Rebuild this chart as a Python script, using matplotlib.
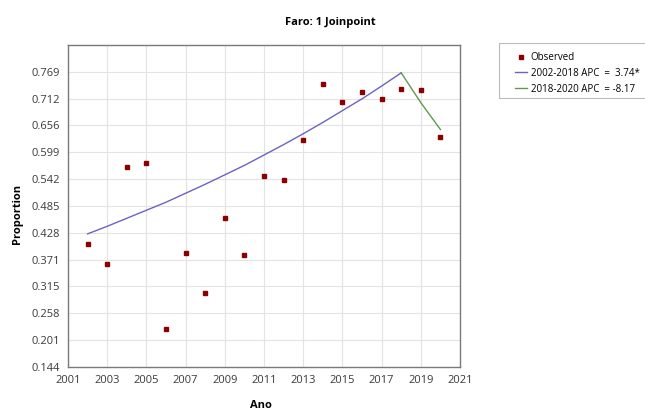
import numpy as np
import matplotlib.pyplot as plt
from matplotlib.patches import Rectangle

plt.rcParams['font.family'] = ['Open Sans', 'DejaVu Sans']

# observed proportions
years = [2002, 2003, 2004, 2005, 2006, 2007, 2008, 2009, 2010, 2011,
         2012, 2013, 2014, 2015, 2016, 2017, 2018, 2019, 2020]
observed = [0.404, 0.362, 0.568, 0.576, 0.224, 0.385, 0.301, 0.460, 0.381, 0.549,
            0.541, 0.625, 0.743, 0.705, 0.727, 0.711, 0.733, 0.730, 0.631]

# modelled values, segment 1 (2002-2018) and segment 2 (2018-2020)
seg1_years = [2002, 2003, 2004, 2005, 2006, 2007, 2008, 2009, 2010,
              2011, 2012, 2013, 2014, 2015, 2016, 2017, 2018]
seg1_fit = [0.426, 0.442, 0.459, 0.476, 0.493, 0.512, 0.531, 0.551, 0.571,
            0.593, 0.615, 0.638, 0.662, 0.687, 0.712, 0.739, 0.767]
seg2_years = [2018, 2019, 2020]
seg2_fit = [0.767, 0.704, 0.647]

seg1_label = '2002-2018 APC  =  3.74*'
seg2_label = '2018-2020 APC  = -8.17'

y_ticks = [0.144, 0.201, 0.258, 0.315, 0.371, 0.428, 0.485, 0.542, 0.599, 0.656, 0.712, 0.769]
x_ticks = [2001, 2003, 2005, 2007, 2009, 2011, 2013, 2015, 2017, 2019, 2021]

W, H = 645, 412
fig = plt.figure(figsize=(6.45, 4.12), dpi=100)
ax = fig.add_axes([68 / W, 1 - 367 / H, 392 / W, 322 / H])

ax.plot(years, observed, ls='none', marker='s', ms=3.2, color='#8b0000', zorder=3, label='Observed')
ax.plot(seg1_years, seg1_fit, color='#6b63c4', lw=1, label=seg1_label, zorder=2)
ax.plot(seg2_years, seg2_fit, color='#5e9a50', lw=1, label=seg2_label, zorder=2)

ax.set_xlim(2001, 2021)
ax.set_ylim(0.144, 0.826)
ax.set_xticks(x_ticks)
ax.set_yticks(y_ticks)
ax.set_yticklabels(['%.3f' % v for v in y_ticks])
ax.tick_params(length=0, labelsize=8, colors='#3a3a3a', pad=6)
ax.grid(True, color='#e3e3e3', lw=0.8)
ax.set_axisbelow(True)
for s in ax.spines.values():
    s.set_color('#7a7a7a')
    s.set_linewidth(1)

fig.text(330 / W, 1 - 23 / H, 'Faro: 1 Joinpoint', fontsize=8, fontweight='bold', ha='center', va='center')
fig.text(261 / W, 1 - 406 / H, 'Ano', fontsize=8, fontweight='bold', ha='center', va='center')
fig.text(18 / W, 1 - 214 / H, 'Proportion', fontsize=8, fontweight='bold', ha='center', va='center',
         rotation=90)

# legend frame drawn separately so the inner padding matches
fig.patches.append(Rectangle((499 / W, 1 - 98 / H), 160 / W, 55 / H, transform=fig.transFigure,
                             fill=False, ec='#bbbbbb', lw=0.8))
leg = fig.legend(loc='upper left', bbox_to_anchor=(515 / W, 1 - 52 / H), fontsize=7,
                 frameon=False, handlelength=1.25, borderpad=0, borderaxespad=0,
                 labelspacing=0.5, handletextpad=0.35, numpoints=1)

plt.savefig('out.png', dpi=100)
